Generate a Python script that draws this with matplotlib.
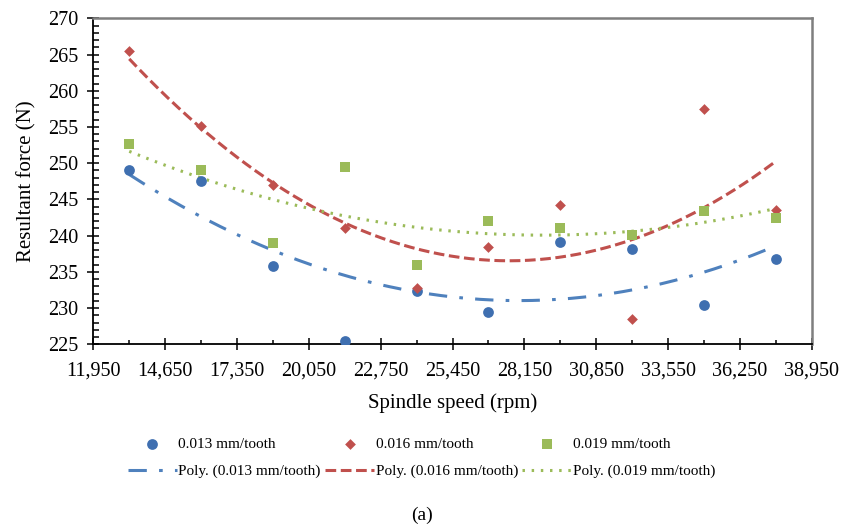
import numpy as np
import matplotlib.pyplot as plt
from matplotlib.ticker import FixedLocator, FuncFormatter

plt.rcParams['font.family'] = ['Liberation Serif', 'DejaVu Serif']

spindle_speed = [13300, 16000, 18700, 21400, 24100, 26800, 29500, 32200, 34900, 37600]
force_013 = [249.1, 247.5, 235.8, 225.5, 232.3, 229.5, 239.1, 238.2, 230.4, 236.8]
force_016 = [265.5, 255.2, 247.0, 241.0, 232.8, 238.5, 244.2, 228.5, 257.5, 243.5]
force_019 = [252.6, 249.0, 239.0, 249.5, 235.9, 242.0, 241.1, 240.1, 243.4, 242.4]
labels = ["0.013 mm/tooth", "0.016 mm/tooth", "0.019 mm/tooth"]

blue = "#4F81BD"
red = "#C0504D"
green = "#9BBB59"

fig = plt.figure(figsize=(8.43, 5.32), dpi=100)
ax = fig.add_axes([0.1107, 0.3528, 0.8522, 0.6128])

x = np.array(spindle_speed, dtype=float)
xs = np.linspace(x.min(), x.max(), 200)

s1 = ax.scatter(x, force_013, s=60, marker="o", color="#3F6FB0", zorder=3, linewidths=0)
s2 = ax.scatter(x, force_016, s=30, marker="D", color=red, zorder=3, linewidths=0)
s3 = ax.scatter(x, force_019, s=60, marker="s", color=green, zorder=3, linewidths=0)

# 2nd order trendlines, like excel
p1 = np.polyfit(x, force_013, 2)
p2 = np.polyfit(x, force_016, 2)
p3 = np.polyfit(x, force_019, 2)
l1, = ax.plot(xs, np.polyval(p1, xs), color=blue, lw=2.2, dashes=(6, 4, 1.2, 4), zorder=2)
l2, = ax.plot(xs, np.polyval(p2, xs), color=red, lw=2.2, dashes=(3.5, 1.5), zorder=2)
l3, = ax.plot(xs, np.polyval(p3, xs), color=green, lw=2.2, dashes=(0.8, 2.2), zorder=2)

ax.set_xlim(11950, 38950)
ax.set_ylim(225, 270)
ax.xaxis.set_major_locator(FixedLocator(np.arange(11950, 38951, 2700)))
ax.xaxis.set_minor_locator(FixedLocator(np.arange(13300, 38950, 2700)))
ax.set_yticks(np.arange(225, 271, 5))
ax.set_yticks(np.arange(225, 271, 1), minor=True)
ax.xaxis.set_major_formatter(FuncFormatter(lambda v, p: f"{v:,.0f}"))

ax.tick_params(which="major", direction="inout", length=9, width=1.1, labelsize=14.5, color="black")
ax.tick_params(axis="x", which="major", pad=8)
ax.tick_params(axis="y", which="major", pad=6)
ax.tick_params(axis="x", which="minor", direction="in", length=3, width=1.1)
ax.tick_params(axis="y", which="minor", direction="in", length=4.5, width=1.1)

for side in ["left", "bottom"]:
    ax.spines[side].set_color("black")
    ax.spines[side].set_linewidth(1.3)
for side in ["top", "right"]:
    ax.spines[side].set_color("#7F7F7F")
    ax.spines[side].set_linewidth(1.8)

ax.set_xlabel("Spindle speed (rpm)", fontsize=15, labelpad=9)
ax.set_ylabel("Resultant force (N)", fontsize=15, labelpad=9)

handles = [s1, l1, s2, l2, s3, l3]
names = [labels[0], "Poly. (" + labels[0] + ")",
         labels[1], "Poly. (" + labels[1] + ")",
         labels[2], "Poly. (" + labels[2] + ")"]
fig.legend(handles, names, loc="center", bbox_to_anchor=(0.5, 0.14), ncol=3,
           frameon=False, fontsize=11, handlelength=3.2, handletextpad=0.1,
           columnspacing=0.3, labelspacing=0.9, scatterpoints=1)

fig.text(0.5, 0.032, "(a)", ha="center", va="center", fontsize=14)

fig.savefig("out.png", dpi=100)
